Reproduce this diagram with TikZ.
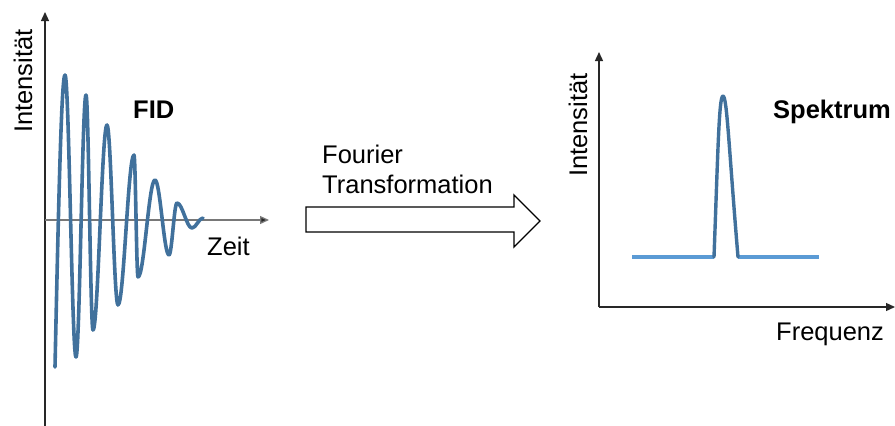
\documentclass[tikz,border=0pt]{standalone}
\usepackage{fontspec}
\setmainfont{Liberation Sans}
\usetikzlibrary{arrows.meta}
\definecolor{wavecol}{RGB}{65,113,156}
\definecolor{basecol}{RGB}{91,155,213}
\definecolor{axiscol}{RGB}{40,40,40}
\definecolor{axisgray}{RGB}{120,120,120}
\tikzset{
  axisline/.style={draw=axiscol, line width=1.3pt, -{Triangle[length=9pt,width=8pt]}},
  lbl/.style={inner sep=0pt, font=\fontsize{25.5}{30}\selectfont},
  boldlbl/.style={lbl, font=\fontsize{25.5}{30}\selectfont\bfseries},
  wave/.style={draw=wavecol, line width=3.6pt, line cap=round, line join=round},
  baseline/.style={draw=basecol, line width=3.2pt},
  bigarrow/.style={draw=black, line width=1.3pt, fill=white, line join=miter}
}
\begin{document}
\begin{tikzpicture}[x=1pt,y=-1pt]
\useasboundingbox (0,0) rectangle (895,426);
% ---- left plot (FID)
\coordinate (lo) at (45,220);
\coordinate (ltop) at (45,12);
\coordinate (lbot) at (45,426);
\coordinate (lright) at (269,220);
\draw[axisline] (lbot) -- (ltop);
\draw[axisline, draw=axisgray, -{Triangle[length=9pt,width=8pt,fill=axiscol]}] (lo) -- (lright);
\draw[wave] (55,367) sin (65,75) cos (70.5,216) sin (76,357) cos (81,226) sin (86,95)
  cos (89.5,212.5) sin (93,330) cos (100,227.5) sin (107,125) cos (112.5,215) sin (118,305)
  cos (126,230) sin (134,155) cos (136,216) sin (138,277) cos (146.5,228.5) sin (155,180)
  cos (162,217.5) sin (169,255) cos (173,229) sin (177,203) cos (184.5,215.5) sin (192,228)
  cos (197.5,223) sin (203,218);
\node[lbl, rotate=90, anchor=base west] (intl) at (32,133) {Intensität};
\node[boldlbl, anchor=base west] (fid) at (133,118) {FID};
\node[lbl, anchor=base west] (zeit) at (207,255) {Zeit};
% ---- transformation arrow
\node[lbl, anchor=base west] (four) at (322,163) {Fourier};
\node[lbl, anchor=base west] (trans) at (322,193) {Transformation};
\draw[bigarrow] (306,207) -- (514,207) -- (514,195) -- (540,221) -- (514,247) -- (514,232) -- (306,232) -- cycle;
% ---- right plot (Spektrum)
\coordinate (ro) at (599,307);
\coordinate (rtop) at (599,52);
\coordinate (rright) at (895,307);
\draw[axisline] (ro) -- (rtop);
\draw[axisline] (ro) -- (rright);
\draw[baseline] (632,257) -- (714,257);
\draw[baseline] (738,257) -- (819,257);
\draw[wave, line width=3.4pt] (714,257) .. controls (718,150) and (719,96) .. (723,96)
  .. controls (727,96) and (729,150) .. (738,257);
\node[lbl, rotate=90, anchor=base west] (intr) at (587,177) {Intensität};
\node[boldlbl, anchor=base west] (spek) at (773,118) {Spektrum};
\node[lbl, anchor=base west] (freq) at (776,340) {Frequenz};
\end{tikzpicture}
\end{document}
